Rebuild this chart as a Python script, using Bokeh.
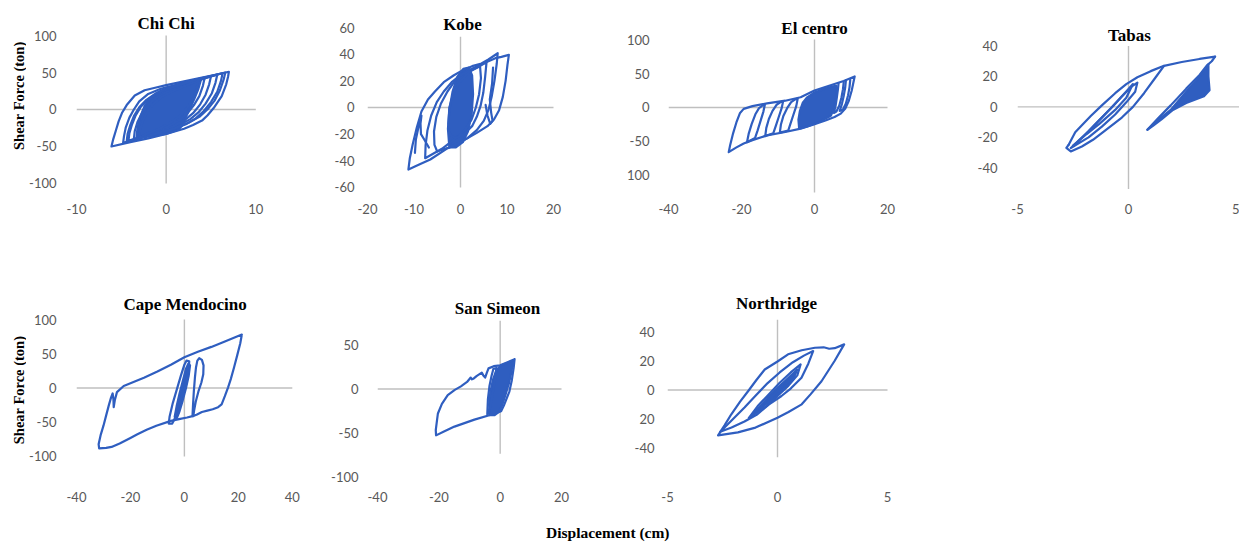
import math
from bokeh.plotting import figure
from bokeh.layouts import column, row
from bokeh.models import FixedTicker, Label, Div, Range1d, Spacer
from bokeh.core.properties import value
from bokeh.embed import file_html
from bokeh.resources import INLINE

# ---------------- data (displacement cm, shear force ton) ----------------
CHICHI_OUTER = [(7.0,51),(6.9,44),(6.7,34),(6.2,18),(5.3,2),(4.6,-8),(4.0,-15),(3.0,-21),(2.0,-26),(0,-33),(-2,-39),(-4,-44),(-6.1,-50),(-5.9,-40),(-5.6,-28),(-5.3,-16),(-4.9,-4),(-4.4,6),(-3.5,19),(-2.4,26),(-1,30),(0,33),(2,38),(4,43),(5.5,47),(7.0,51)]
CHICHI_L2 = [(6.3,49),(6.1,38),(5.7,24),(5.0,10),(4.2,-2),(3.3,-12),(2.2,-20),(0.5,-28),(-2,-36),(-4.8,-45),(-4.7,-36),(-4.5,-24),(-4.1,-11),(-3.6,0),(-3.0,11),(-2.0,21),(-0.6,28),(1,33),(3.5,41),(6.3,49)]
CHICHI_L3 = [(5.7,47),(5.5,36),(5.1,22),(4.4,8),(3.6,-4),(2.7,-13),(1.5,-21),(-0.3,-29),(-2.2,-36),(-4.2,-42),(-4.1,-32),(-3.8,-20),(-3.4,-8),(-2.8,4),(-2.0,14),(-0.8,23),(0.8,30),(3,38),(5.7,47)]
CHICHI_L4 = [(5.0,45),(4.8,34),(4.4,20),(3.8,7),(3.0,-5),(2.1,-14),(0.9,-22),(-0.8,-30),(-3.6,-40),(-3.5,-29),(-3.2,-17),(-2.7,-5),(-2.0,6),(-1.1,16),(0.2,24),(2,32),(5.0,45)]
CHICHI_L5 = [(4.3,43),(4.1,32),(3.7,18),(3.1,6),(2.3,-6),(1.4,-15),(0.2,-23),(-1.5,-31),(-3.0,-38),(-2.9,-27),(-2.6,-15),(-2.1,-3),(-1.4,8),(-0.4,18),(1,26),(2.6,34),(4.3,43)]
CHICHI_L6 = [(6.6,50),(6.4,40),(6.0,26),(5.4,12),(4.6,0),(3.7,-10),(2.5,-18),(0.8,-26),(-1.5,-34),(-4.4,-43),(-4.3,-33),(-4.0,-21),(-3.6,-9),(-3.0,3),(-2.2,13),(-1.0,23),(0.6,30),(3,39),(6.6,50)]
CHICHI_L7 = [(3.6,40),(3.4,28),(3.0,15),(2.4,3),(1.6,-8),(0.6,-17),(-0.8,-26),(-2.6,-35)]
CHICHI_CORE = [(-3.3,-38),(-3.2,-25),(-2.9,-10),(-2.4,5),(-1.6,17),(-0.5,26),(1,32),(2.5,37),(3.9,41),(3.6,28),(3.1,13),(2.6,0),(2.2,-10),(1.9,-20),(1.4,-27),(0,-33),(-1.5,-36)]

KOBE_L1 = [(-11.2,-46.5),(-10.9,-38),(-10.3,-28),(-9.4,-15),(-8.4,-3),(-7,6),(-5.5,12),(-3.6,19),(-1.5,24),(0.5,28),(2.5,31),(4.5,33),(6,36),(8,40.7),(7.8,33),(7.3,20),(6.7,8),(6,-2),(5,-10),(3.5,-17),(1.5,-23),(-1,-28),(-3,-31),(-6.5,-39),(-9,-43),(-11.2,-46.5)]
KOBE_L2 = [(10.4,39.5),(10.1,32),(9.7,20),(9.1,8),(8.3,-2),(7.2,-9),(5.8,-14),(3.5,-19),(0.5,-25),(-2.5,-30),(-5,-33),(-5.6,-28),(-5.7,-18),(-5.2,-7),(-4.2,3),(-2.8,12),(-1.2,20),(0.8,26),(3,30),(5.5,34),(7.5,37),(8.8,38),(10.4,39.5)]
KOBE_L3 = [(-7.6,-38),(-7.5,-28),(-7.1,-17),(-6.3,-6),(-5.1,4),(-3.6,12),(-1.9,19),(0.3,25),(2.4,28),(4.2,31),(4.4,22),(4,10),(3.3,0),(2.4,-9),(1,-17),(-1,-23),(-4,-31),(-7.6,-38)]
KOBE_L4 = [(5.6,34),(5.3,23),(4.9,11),(4.3,1),(3.5,-7),(2.5,-14),(1,-19),(-1,-23),(-2.2,-21),(-2.6,-12),(-2.4,0),(-1.6,10),(-0.2,19),(2,27),(5.6,34)]
KOBE_L5 = [(7.0,30),(6.8,18),(6.3,6),(6.6,-4),(6.9,-10),(6.4,-12.3),(5.8,-6),(5.4,2)]
KOBE_L6 = [(-9.8,-34),(-9.6,-24),(-9.0,-14),(-8.4,-6),(-8.6,-12),(-8.5,-20),(-7.8,-24),(-6.8,-30)]
KOBE_CORE = [(-2.4,-30),(-2.7,-16),(-2.4,-2),(-1.7,12),(-0.7,23),(0.6,29),(1.8,30),(2.5,24),(2.7,10),(2.4,-5),(1.6,-18),(0.5,-26),(-1,-30)]

ELC_OUTER = [(11,45.6),(10.7,38),(10.2,25),(9.4,10),(8.5,-1),(7.2,-9),(5.5,-14),(3,-19),(0,-24.5),(-3.8,-31),(-8,-36),(-13,-41),(-17,-48),(-19.4,-53),(-21.5,-59),(-23.5,-65.7),(-23.1,-55),(-22.3,-38),(-21.4,-22),(-20.4,-8),(-19.4,-2),(-17,2),(-13,6),(-8,10),(-3.8,15),(0,25),(4,32),(8,39),(11,45.6)]
ELC_B1 = [(-18.5,-51),(-18.0,-38),(-17.2,-24),(-16.2,-10),(-15.2,-1),(-14.2,3),(-13.6,4),(-14.0,-6),(-14.8,-20),(-15.6,-34),(-16.3,-45),(-18.5,-51)]
ELC_B2 = [(-13.5,-42),(-13.2,-30),(-12.5,-17),(-11.5,-5),(-10.4,4),(-9.3,8),(-8.6,9),(-9.0,-1),(-9.8,-14),(-10.6,-27),(-11.3,-38),(-13.5,-42)]
ELC_B3 = [(-9.5,-37),(-9.2,-25),(-8.5,-12),(-7.5,-1),(-6.4,8),(-5.3,12),(-4.6,13),(-5.0,2),(-5.8,-11),(-6.6,-24),(-7.2,-34),(-9.5,-37)]
ELC_R1 = [(6.6,36),(6.4,26),(6.1,14),(5.8,3),(5.3,-8),(6.0,-6),(6.8,3),(7.4,15),(7.8,27),(8.0,37)]
ELC_R2 = [(8.6,40),(8.4,29),(8.0,17),(7.5,5),(6.9,-5),(7.8,-3),(8.6,6),(9.2,18),(9.6,30),(9.8,41)]
ELC_CORE = [(-4.2,-31),(-4.4,-18),(-4.0,-5),(-3.2,7),(-2,15),(0,22),(2.5,27),(5,31),(6,32),(6.1,22),(5.8,10),(5.3,-2),(4.5,-12),(2,-19),(0,-24),(-2,-28)]

TABAS_UP = [(-2.7,-25),(-2.4,-16.6),(-2.1,-12),(-1.7,-6),(-1.2,1),(-0.6,9),(-0.1,15),(0.4,19.5),(1.0,23.5),(1.6,27),(2.4,29.5),(3.2,31.5),(3.9,33)]
TABAS_DOWN = [(1.6,27),(1.2,19),(0.7,9),(0.2,0),(-0.3,-7),(-1.0,-15),(-1.6,-21.6),(-2.1,-26),(-2.6,-29.3),(-2.8,-27),(-2.7,-25)]
TABAS_L2 = [(-2.6,-27),(-2.0,-19),(-1.4,-10),(-0.8,-1),(-0.3,7),(0.1,13),(0.4,16),(0.3,10),(-0.1,3),(-0.6,-5),(-1.2,-13),(-1.8,-20),(-2.6,-27)]
TABAS_L3 = [(-2.5,-25.5),(-1.8,-16),(-1.2,-7),(-0.6,2),(-0.1,10),(0.2,15),(-0.1,6),(-0.6,-2),(-1.3,-11),(-1.9,-18),(-2.5,-25.5)]
TABAS_R_LINE = [(3.9,33),(3.75,30),(3.55,27.5),(3.2,21),(2.6,12),(1.9,1),(1.3,-8),(0.85,-15)]
TABAS_R_CORE = [(0.85,-15),(1.3,-9),(1.9,-2),(2.6,10),(3.1,18),(3.5,25),(3.6,28),(3.6,20),(3.65,11),(3.4,7),(2.6,2.5),(2.0,-2),(1.5,-8),(1.1,-12.5)]

CAPE_OUTER = [(21.3,78),(20.7,65),(19.6,48),(18.4,30),(17.2,13),(16.2,1),(15,-12),(13.8,-24),(12.5,-28),(10.5,-31),(8.5,-33),(6.5,-35),(4.5,-39),(3,-41),(1,-43),(-2,-45.5),(-5,-48),(-10.4,-55),(-14,-61),(-17.6,-68),(-20,-73),(-24,-81),(-27,-86),(-29,-87.5),(-31.6,-88),(-31.8,-82),(-31,-68),(-30,-55),(-29,-40),(-28,-25),(-27.2,-14),(-26.6,-8),(-26.3,-17),(-26.2,-28),(-25.8,-18),(-25,-6),(-22.5,3),(-15,15),(-10,24),(-5,34),(0,45),(5,53),(10,60),(15,68),(21.3,78)]
CAPE_RIGHT = [(3.0,-41),(3.2,-25),(3.5,-5),(3.9,15),(4.3,30),(4.8,40),(5.5,43.5),(6.5,41),(7.1,33),(7.0,20),(6.3,8),(5.2,-5),(4.2,-20),(3.6,-33),(3.3,-41)]
CAPE_CENTER = [(-5.8,-52),(-5.5,-42),(-4.3,-22),(-2.8,-2),(-1.3,18),(0,34),(0.8,40),(1.8,39),(1.6,28),(0.6,10),(-0.8,-10),(-2.4,-30),(-3.6,-45),(-4.5,-52),(-5.8,-52)]
CAPE_CORE = [(-3.6,-42),(-2.8,-25),(-1.8,-8),(-0.6,10),(0.6,28),(1.5,36),(2.1,33),(1.6,18),(0.6,0),(-0.6,-18),(-1.8,-34),(-2.8,-44)]

SAN_OUTER = [(4.7,34),(4.4,24),(3.8,10),(3.0,-3),(2.2,-10),(1.2,-19),(0.3,-25.5),(-3,-29.5),(-8.4,-35),(-14.9,-43),(-18.5,-49),(-20.9,-53),(-21.0,-47),(-20.6,-36),(-20.3,-28),(-19.0,-17),(-17.1,-7),(-14.8,-1),(-12.8,3),(-10.8,8),(-9.6,13),(-9.2,11),(-8.6,12),(-7.6,15),(-6,18.6),(-5.4,15),(-4.9,13),(-4.3,19),(-3.8,23.5),(-2.1,26),(0,27),(2,30),(4.7,34)]
SAN_L2 = [(-4.2,-29),(-4.0,-12),(-3.5,3),(-2.8,15),(-2.2,23),(-1.2,24),(-1.6,12),(-2.3,-2),(-3.0,-16),(-3.6,-27),(-4.2,-29)]
SAN_CORE = [(-3.4,-30),(-3.6,-18),(-3.2,-4),(-2.4,10),(-1.3,21),(0.3,27),(2.5,30),(4.2,32),(3.7,20),(2.9,7),(1.8,-6),(0.8,-17),(-0.3,-26),(-1.8,-30)]

NOR_OUTER = [(-2.7,-31),(-2.4,-24),(-2.1,-16.6),(-1.7,-8),(-1.33,-0.7),(-0.95,7),(-0.58,14),(0,19.5),(0.48,24.4),(1.1,27.2),(1.7,28.9),(2.1,29.2),(2.35,28.2),(2.6,28.6),(3.03,31.2),(2.6,20),(2.0,6),(1.5,-3),(1.1,-9.8),(0.5,-15),(0,-19),(-1.0,-25.7),(-1.8,-29),(-2.55,-30.7),(-2.7,-31)]
NOR_MID = [(-2.6,-28.5),(-2.1,-21),(-1.5,-12),(-1.0,-4),(-0.5,4),(0.1,12),(0.7,19),(1.2,23.5),(1.62,26.6),(1.4,18),(1.09,8.4),(0.6,1),(0.18,-4.1),(-0.4,-10),(-0.91,-16.6),(-1.5,-21.5),(-2.09,-25.7),(-2.6,-28.5)]
NOR_INNER = [(-1.3,-19),(-0.9,-11),(-0.4,-3),(0.1,5),(0.6,12),(1.05,17.5),(0.9,10),(0.5,3),(0,-4),(-0.5,-11),(-1.3,-19)]
NOR_CORE = [(-1.1,-16),(-0.6,-8),(-0.1,0),(0.4,7),(0.9,14),(0.7,7),(0.2,0),(-0.3,-7),(-0.8,-13)]

# tick values and labels
CHICHI_XT, CHICHI_XL = [-10, 0, 10], ["-10", "0", "10"]
CHICHI_YT, CHICHI_YL = [-100, -50, 0, 50, 100], ["-100", "-50", "0", "50", "100"]
KOBE_XT, KOBE_XL = [-20, -10, 0, 10, 20], ["-20", "-10", "0", "10", "20"]
KOBE_YT, KOBE_YL = [-60, -40, -20, 0, 20, 40, 60], ["-60", "-40", "-20", "0", "20", "40", "60"]
ELC_XT, ELC_XL = [-40, -20, 0, 20], ["-40", "-20", "0", "20"]
ELC_YT, ELC_YL = [-100, -50, 0, 50, 100], ["100", "-50", "0", "50", "100"]
TABAS_XT, TABAS_XL = [-5, 0, 5], ["-5", "0", "5"]
TABAS_YT, TABAS_YL = [-40, -20, 0, 20, 40], ["-40", "-20", "0", "20", "40"]
CAPE_XT, CAPE_XL = [-40, -20, 0, 20, 40], ["-40", "-20", "0", "20", "40"]
CAPE_YT, CAPE_YL = [-100, -50, 0, 50, 100], ["-100", "-50", "0", "50", "100"]
SAN_XT, SAN_XL = [-40, -20, 0, 20], ["-40", "-20", "0", "20"]
SAN_YT, SAN_YL = [-100, -50, 0, 50], ["-100", "-50", "0", "50"]
NOR_XT, NOR_XL = [-5, 0, 5], ["-5", "0", "5"]
NOR_YT, NOR_YL = [-40, -20, 0, 20, 40], ["-40", "20", "0", "20", "40"]

Y_TITLE = "Shear Force (ton)"
X_TITLE = "Displacement (cm)"

# ---------------- styling / layout ----------------
BLUE = "#2f5ec0"
AXIS_GRAY = "#bfbfbf"
TICK_GRAY = "#595959"
LW = 2.2


def panel(canvas, frame, xmap, ymap, xt, xl, yt, yl, ygap, xgap, xline, yline,
          title, title_px, lines, patches):
    cx0, cy0, cx1, cy1 = canvas
    fx0, fy0, fx1, fy1 = frame
    (xa, pa), (xb, pb) = xmap
    sx = (xb - xa) / (pb - pa)
    (ya, qa), (yb, qb) = ymap
    sy = (yb - ya) / (qb - qa)
    xv = lambda px: xa + (px - pa) * sx
    yv = lambda py: ya + (py - qa) * sy
    ex = 1e-6 * abs(xb - xa)
    ey = 1e-6 * abs(yb - ya)
    p = figure(width=cx1 - cx0, height=cy1 - cy0,
               x_range=Range1d(xv(fx0) - ex, xv(fx1) + ex),
               y_range=Range1d(yv(fy1) - ey, yv(fy0) + ey),
               min_border_left=fx0 - cx0, min_border_right=cx1 - fx1,
               min_border_top=fy0 - cy0, min_border_bottom=cy1 - fy1,
               toolbar_location=None, tools="", output_backend="svg")
    p.title.visible = False
    p.outline_line_color = None
    p.background_fill_color = "white"
    p.border_fill_color = "white"
    p.grid.visible = False
    for ax in (p.xaxis[0], p.yaxis[0]):
        ax.axis_line_color = None
        ax.major_tick_line_color = None
        ax.minor_tick_line_color = None
        ax.major_label_text_font = "Lato"
        ax.major_label_text_font_size = "13px"
        ax.major_label_text_color = TICK_GRAY
    p.xaxis.ticker = FixedTicker(ticks=xt)
    p.xaxis.major_label_overrides = {t: l for t, l in zip(xt, xl)}
    p.yaxis.ticker = FixedTicker(ticks=yt)
    p.yaxis.major_label_overrides = {t: l for t, l in zip(yt, yl)}
    p.yaxis.major_label_standoff = ygap
    p.xaxis.major_label_standoff = xgap
    # axes crossing at zero
    p.segment(x0=[xline[0], 0], y0=[0, yline[0]], x1=[xline[1], 0], y1=[0, yline[1]],
              line_color=AXIS_GRAY, line_width=1.4)
    for pts in patches:
        p.patch([a for a, b in pts], [b for a, b in pts], fill_color=BLUE,
                line_color=BLUE, line_width=LW, line_join="round")
    for pts in lines:
        p.line([a for a, b in pts], [b for a, b in pts], line_color=BLUE,
               line_width=LW, line_join="round", line_cap="round")
    p.add_layout(Label(x=xv(title_px[0]), y=yv(title_px[1]), text=title,
                       text_align="center", text_baseline="middle",
                       text_font="Liberation Serif", text_font_style="bold",
                       text_font_size="17px", text_color="black"))
    return p


def strip(width, height, cx, cy):
    s = figure(width=width, height=height, x_range=Range1d(0, width), y_range=Range1d(height, 0),
               min_border_left=0, min_border_right=0, min_border_top=0, min_border_bottom=0,
               toolbar_location=None, tools="", output_backend="svg")
    s.title.visible = False
    s.axis.visible = False
    s.grid.visible = False
    s.outline_line_color = None
    s.text(x=[cx], y=[cy], text=[Y_TITLE], angle=math.pi / 2, text_align="center",
           text_baseline="middle", text_font=value("Liberation Serif"), text_font_style="bold",
           text_font_size="14.5px", text_color="black")
    return s


s1 = strip(26, 225, 18, 111)
f1 = panel((26, 0, 312, 225), (70, 0, 305, 193), ((-10, 70), (10, 254)), ((100, 35), (-100, 183)),
           CHICHI_XT, CHICHI_XL, CHICHI_YT, CHICHI_YL, 14, 4, (-10, 10), (-100, 100),
           "Chi Chi", (162, 23),
           [CHICHI_OUTER, CHICHI_L2, CHICHI_L3, CHICHI_L4, CHICHI_L5, CHICHI_L6, CHICHI_L7], [CHICHI_CORE])
f2 = panel((312, 0, 612, 225), (367, 0, 605, 193), ((-20, 367), (20, 553)), ((60, 27), (-60, 187)),
           KOBE_XT, KOBE_XL, KOBE_YT, KOBE_YL, 7, 4, (-20, 20), (-60, 53),
           "Kobe", (462, 24),
           [KOBE_L1, KOBE_L2, KOBE_L3, KOBE_L4, KOBE_L5, KOBE_L6], [KOBE_CORE])
f3 = panel((612, 0, 920, 225), (668, 0, 912, 193), ((-40, 668), (20, 887)), ((100, 39), (0, 107)),
           ELC_XT, ELC_XL, ELC_YT, ELC_YL, 13, 4, (-40, 20), (-125, 100),
           "El centro", (814, 28),
           [ELC_OUTER, ELC_B1, ELC_B2, ELC_B3, ELC_R1, ELC_R2], [ELC_CORE])
f4 = panel((920, 0, 1239, 225), (1017, 0, 1239, 195), ((-5, 1017), (0, 1128)), ((40, 46), (-40, 169)),
           TABAS_XT, TABAS_XL, TABAS_YT, TABAS_YL, 14, 4, (-5, 5), (-54, 40),
           "Tabas", (1129, 35),
           [TABAS_UP, TABAS_DOWN, TABAS_L2, TABAS_L3, TABAS_R_LINE], [TABAS_R_CORE])

s2 = strip(26, 290, 18, 383 - 225)
f5 = panel((26, 225, 312, 515), (71, 280, 305, 481), ((-40, 71), (40, 291.5)), ((100, 319), (-100, 456)),
           CAPE_XT, CAPE_XL, CAPE_YT, CAPE_YL, 14, 4, (-40, 40), (-100, 100),
           "Cape Mendocino", (182, 304),
           [CAPE_OUTER, CAPE_RIGHT, CAPE_CENTER], [CAPE_CORE])
f6 = panel((312, 225, 612, 515), (377, 280, 605, 482), ((-40, 377), (20, 561)), ((50, 345), (-100, 477)),
           SAN_XT, SAN_XL, SAN_YT, SAN_YL, 13, 4, (-40, 20), (-74, 78),
           "San Simeon", (497, 308),
           [SAN_OUTER, SAN_L2], [SAN_CORE])
f7 = panel((612, 225, 920, 515), (667, 280, 912, 481), ((-5, 667), (5, 887)), ((40, 331), (-40, 448)),
           NOR_XT, NOR_XL, NOR_YT, NOR_YL, 7, 4, (-5, 5), (-46, 48),
           "Northridge", (776, 303),
           [NOR_OUTER, NOR_MID, NOR_INNER], [NOR_CORE])

xlabel = Div(text='<div style="margin-left:541px;margin-top:4px;font-family:\'Liberation Serif\';'
                  'font-weight:bold;font-size:15.5px;line-height:18px;color:#000;white-space:nowrap;">'
                  + X_TITLE + '</div>', width=1239, height=27)

layout = column(row(s1, f1, f2, f3, f4),
                row(s2, f5, f6, f7, Spacer(width=319, height=290)),
                xlabel)

open("out.html", "w").write(file_html(layout, INLINE))
